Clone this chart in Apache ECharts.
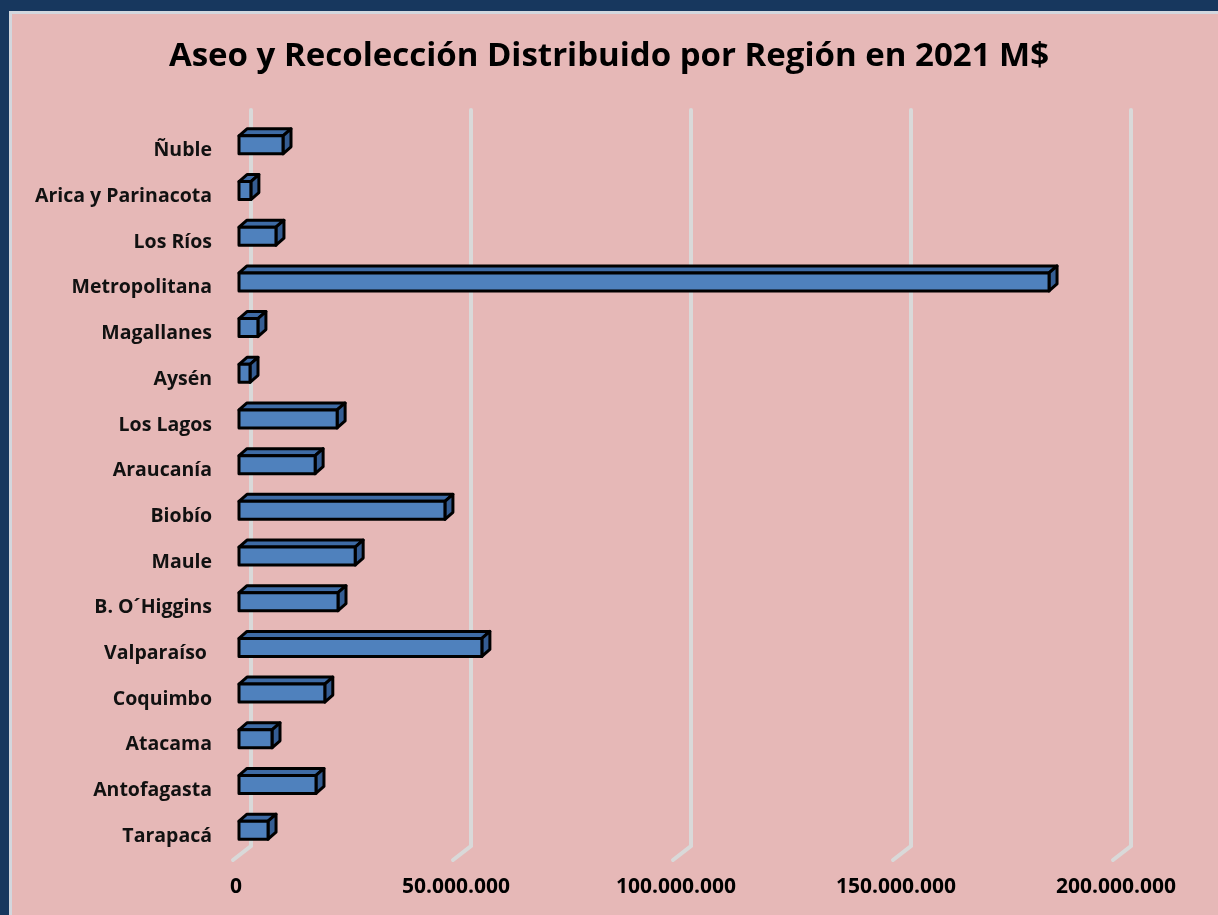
<!DOCTYPE html>
<html>
<head>
<meta charset="utf-8">
<script src="https://cdn.jsdelivr.net/npm/echarts@6/dist/echarts.min.js"></script>
<style>
    body { margin: 0; background: #17375E; width: 1218px; height: 915px; overflow: hidden; }
    #panel { position: absolute; left: 9px; top: 11px; right: 0; bottom: 0; background: #E6B8B7; border-left: 3px solid #D3D7DE; border-top: 3px solid #D3D7DE; }
    #chart { position: absolute; left: 0; top: 0; width: 1218px; height: 915px; }
</style>
</head>
<body>
<div id="panel"></div>
<div id="chart"></div>
<script>
// bottom to top, as in the worksheet
var regiones = ['Tarapacá', 'Antofagasta', 'Atacama', 'Coquimbo', 'Valparaíso ', 'B. O´Higgins', 'Maule', 'Biobío',
    'Araucanía', 'Los Lagos', 'Aysén', 'Magallanes', 'Metropolitana', 'Los Ríos', 'Arica y Parinacota', 'Ñuble'];
var montos = [6600000, 17500000, 7500000, 19500000, 55200000, 22500000, 26400000, 46800000,
    17300000, 22300000, 2500000, 4300000, 184100000, 8400000, 2700000, 10000000];
var ticks = [0, 50000000, 100000000, 150000000, 200000000];

function miles(v) {
    return String(v).replace(/\B(?=(\d{3})+(?!\d))/g, '.');
}

var font = '"Open Sans", Lato, sans-serif';

echarts.init(document.getElementById('chart')).setOption({
    animation: false,
    title: {
        text: 'Aseo y Recolección Distribuido por Región en 2021 M$',
        left: 'center',
        top: 35,
        textStyle: { fontFamily: font, fontSize: 33, fontWeight: 'bold', color: '#000' }
    },
    grid: { left: 239, right: 99, top: 122, bottom: 62 },
    xAxis: {
        type: 'value',
        min: 0,
        max: 200000000,
        interval: 50000000,
        axisLine: { show: false },
        axisTick: { show: false },
        splitLine: { show: false },
        axisLabel: {
            margin: 24,
            padding: [0, 6, 0, 0],
            fontFamily: font, fontSize: 21, fontWeight: 'bold', color: '#000',
            formatter: miles
        }
    },
    yAxis: {
        type: 'category',
        data: regiones,
        axisLine: { show: false },
        axisTick: { show: false },
        axisLabel: {
            margin: 27,
            verticalAlign: 'top',
            lineHeight: 12,
            fontFamily: font, fontSize: 19.5, fontWeight: 'bold', color: '#111'
        }
    },
    series: [{
        // back wall gridlines with the floor bend
        type: 'custom',
        silent: true,
        data: ticks.map(t => [t, 0]),
        encode: { x: 0, y: 1 },
        renderItem: function(params, api) {
            var x = api.coord([api.value(0), 0])[0];
            var cs = params.coordSys;
            var bot = cs.y + cs.height;
            return {
                type: 'polyline',
                shape: { points: [[x + 12, cs.y - 12], [x + 12, bot - 7], [x - 6, bot + 7]] },
                style: { stroke: '#D9D9D9', lineWidth: 4, fill: null, lineCap: 'round' }
            };
        }
    }, {
        type: 'custom',
        data: montos.map((v, i) => [v, i]),
        encode: { x: 0, y: 1 },
        renderItem: function(params, api) {
            var end = api.coord([api.value(0), api.value(1)]);
            var x0 = api.coord([0, api.value(1)])[0];
            var x1 = end[0];
            var h = 18, dx = 8, dy = 7;
            var y0 = end[1] - h / 2, y1 = end[1] + h / 2;
            var edge = { stroke: '#000', lineWidth: 3, lineJoin: 'round' };
            return {
                type: 'group',
                children: [{
                    type: 'polygon',
                    shape: { points: [[x0, y0], [x0 + dx, y0 - dy], [x1 + dx, y0 - dy], [x1, y0]] },
                    style: Object.assign({ fill: '#3E6BA5' }, edge)
                }, {
                    type: 'polygon',
                    shape: { points: [[x1, y0], [x1 + dx, y0 - dy], [x1 + dx, y1 - dy], [x1, y1]] },
                    style: Object.assign({ fill: '#355D93' }, edge)
                }, {
                    type: 'rect',
                    shape: { x: x0, y: y0, width: x1 - x0, height: h },
                    style: Object.assign({ fill: '#4F81BD' }, edge)
                }]
            };
        }
    }]
});
</script>
</body>
</html>
